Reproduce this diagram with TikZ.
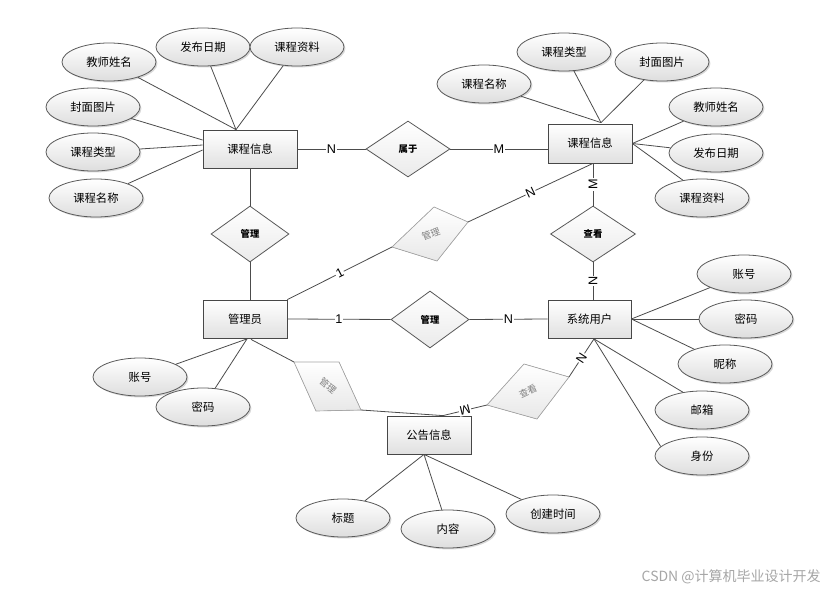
\documentclass[tikz,border=0pt]{standalone}
\usepackage{fontspec}
\setmainfont{Noto Sans CJK SC}
\newfontfamily\latinfont{Liberation Sans}
\usetikzlibrary{shapes.geometric,shadows,calc}
\begin{document}
\begin{tikzpicture}[x=0.75pt,y=-0.75pt,
  shd/.style={drop shadow={shadow xshift=1.1pt,shadow yshift=-1.1pt,opacity=0.3}},
  ent/.style={rectangle,draw=black!72,line width=0.6pt,top color=white,bottom color=black!12,
    minimum width=63pt,minimum height=28.5pt,inner sep=0pt,font=\fontsize{8.5}{10}\selectfont,shd},
  attr/.style={ellipse,draw=black!65,line width=0.6pt,top color=white,bottom color=black!13,
    minimum width=70.5pt,minimum height=28.5pt,inner sep=0pt,font=\fontsize{8.5}{10}\selectfont,shd},
  rel/.style={diamond,draw=black!65,line width=0.6pt,top color=white,bottom color=black!8,
    inner sep=0pt,font=\bfseries\fontsize{7}{8}\selectfont},
  gdia/.style={draw=black!35,line width=0.5pt,top color=white,bottom color=black!9},
  gtxt/.style={text=black!50,font=\fontsize{7}{8}\selectfont,inner sep=0pt},
  lk/.style={draw=black!70,line width=0.6pt},
  card/.style={fill=white,inner sep=0.6pt,font=\latinfont\fontsize{9.5}{10}\selectfont}
]
\fill[white] (0,0) rectangle (833,592);
\useasboundingbox (0,0) rectangle (833,592);

% entities
\node[ent,minimum width=70.5pt] (kc1) at (250,149) {课程信息};
\node[ent,minimum height=29.25pt] (kc2) at (590,143.5) {课程信息};
\node[ent] (adm) at (245,319) {管理员};
\node[ent,minimum width=62.25pt] (su) at (589.5,319) {系统用户};
\node[ent] (gg) at (429,435) {公告信息};

% attributes of left course
\node[attr] (a1) at (109,62) {教师姓名};
\node[attr] (a2) at (203,47) {发布日期};
\node[attr] (a3) at (297,47) {课程资料};
\node[attr] (a4) at (93,107) {封面图片};
\node[attr] (a5) at (93,152) {课程类型};
\node[attr] (a6) at (96,198) {课程名称};
% attributes of right course
\node[attr] (b1) at (484,84) {课程名称};
\node[attr] (b2) at (564,52) {课程类型};
\node[attr] (b3) at (662,62) {封面图片};
\node[attr] (b4) at (716,107) {教师姓名};
\node[attr] (b5) at (716,153) {发布日期};
\node[attr] (b6) at (702,198) {课程资料};
% attributes of user
\node[attr] (c1) at (744,274) {账号};
\node[attr] (c2) at (746,319) {密码};
\node[attr] (c3) at (725,364) {昵称};
\node[attr] (c4) at (702,410) {邮箱};
\node[attr] (c5) at (702,456) {身份};
% attributes of admin
\node[attr] (e1) at (140,377) {账号};
\node[attr] (e2) at (203,407) {密码};
% attributes of notice
\node[attr] (f1) at (343,518) {标题};
\node[attr] (f2) at (448,529) {内容};
\node[attr] (f3) at (553,514) {创建时间};

% relationships
\node[rel,minimum width=63pt,minimum height=42pt] (rb) at (408,149) {属于};
\node[rel,minimum width=58.5pt,minimum height=42pt] (rm1) at (250,234) {管理};
\node[rel,minimum width=63.75pt,minimum height=42pt] (rv) at (593,234) {查看};
\node[rel,minimum width=58.5pt,minimum height=42.75pt] (rm2) at (430,319.5) {管理};

% gray skewed relationships
\coordinate (g1t) at (434,207); \coordinate (g1r) at (468,222);
\coordinate (g1b) at (437,261); \coordinate (g1l) at (392,247);
\filldraw[gdia] (g1t)--(g1r)--(g1b)--(g1l)--cycle;
\node[gtxt,rotate=20] (g1) at (431,234) {管理};

\coordinate (g2tl) at (294,362); \coordinate (g2tr) at (339,362);
\coordinate (g2br) at (361,410); \coordinate (g2bl) at (316,411);
\filldraw[gdia] (g2tl)--(g2tr)--(g2br)--(g2bl)--cycle;
\node[gtxt,rotate=-40] (g2) at (328,386) {管理};

\coordinate (g3l) at (487,405); \coordinate (g3t) at (524,364);
\coordinate (g3r) at (569,377); \coordinate (g3b) at (537,419);
\filldraw[gdia] (g3l)--(g3t)--(g3r)--(g3b)--cycle;
\node[gtxt,rotate=25] (g3) at (528,391) {查看};

% connection points
\coordinate (kc1t) at ($(kc1.north)+(-14,0)$);
\coordinate (kc2t) at ($(kc2.north)+(11,-1)$);
\coordinate (kc2b) at ($(kc2.south)+(3,0)$);
\coordinate (sub) at ($(su.south)+(4.5,0.5)$);
\coordinate (admb) at ($(adm.south)+(2,0.5)$);
\coordinate (ggt) at ($(gg.north)+(14,0)$);
\coordinate (ggb) at ($(gg.south)+(-5,0)$);

% attribute links
\draw[lk] (a1) -- (kc1t);
\draw[lk] (a2) -- (kc1t);
\draw[lk] (a3) -- (kc1t);
\draw[lk] (a4) -- ($(kc1.west)+(0,-9)$);
\draw[lk] (a5) -- ($(kc1.west)+(0,-4)$);
\draw[lk] (a6) -- ($(kc1.west)+(0,1)$);
\draw[lk] (b1) -- (kc2t);
\draw[lk] (b2) -- (kc2t);
\draw[lk] (b3) -- (kc2t);
\draw[lk] (b4) -- (kc2.east);
\draw[lk] (b5) -- (kc2.east);
\draw[lk] (b6.137) -- (kc2.east);
\draw[lk] (c1) -- (su.east);
\draw[lk] (c2) -- (su.east);
\draw[lk] (c3) -- (su.east);
\draw[lk] (c4.137) -- (sub);
\draw[lk] (c5.167) -- (sub);
\draw[lk] (e1) -- (admb);
\draw[lk] (e2) -- (admb);
\draw[lk] (f1) -- (ggb);
\draw[lk] (f2) -- (ggb);
\draw[lk] (f3) -- (ggb);

% relationship links
\draw[lk] (kc1.east) -- node[card] (l1) {N} (rb.west);
\draw[lk] (rb.east) -- node[card] (l2) {M} (rb.east -| kc2.west);
\draw[lk] (kc1.south) -- (rm1.north);
\draw[lk] (rm1.south) -- (rm1.south |- adm.north);
\draw[lk] (adm.east) -- node[card] (l3) {1} (rm2.west);
\draw[lk] (rm2.east) -- node[card] (l4) {N} (su.west);
\draw[lk] (rv.north) -- node[card,rotate=90] (l5) {M} (rv.north |- kc2.south);
\draw[lk] (rv.south) -- node[card,rotate=90] (l6) {N} (rv.south |- su.north);
\draw[lk] (adm.north east) -- node[card,rotate=27] (l7) {1} (g1l);
\draw[lk] (g1r) -- node[card,rotate=25] (l8) {N} (kc2b);
\draw[lk] ($(adm.south)+(6,1)$) -- (g2tl);
\draw[lk] (g2br) -- (ggt);
\draw[lk] (ggt) -- node[card,rotate=194] (l9) {M} (g3l);
\draw[lk] (g3r) -- node[card,rotate=57] (l10) {N} (sub);

% watermark
\node[anchor=east,text=black!35,font=\fontsize{10.5}{12}\selectfont,inner sep=0pt] (wm) at (821,577) {CSDN @计算机毕业设计开发};
\end{tikzpicture}
\end{document}
